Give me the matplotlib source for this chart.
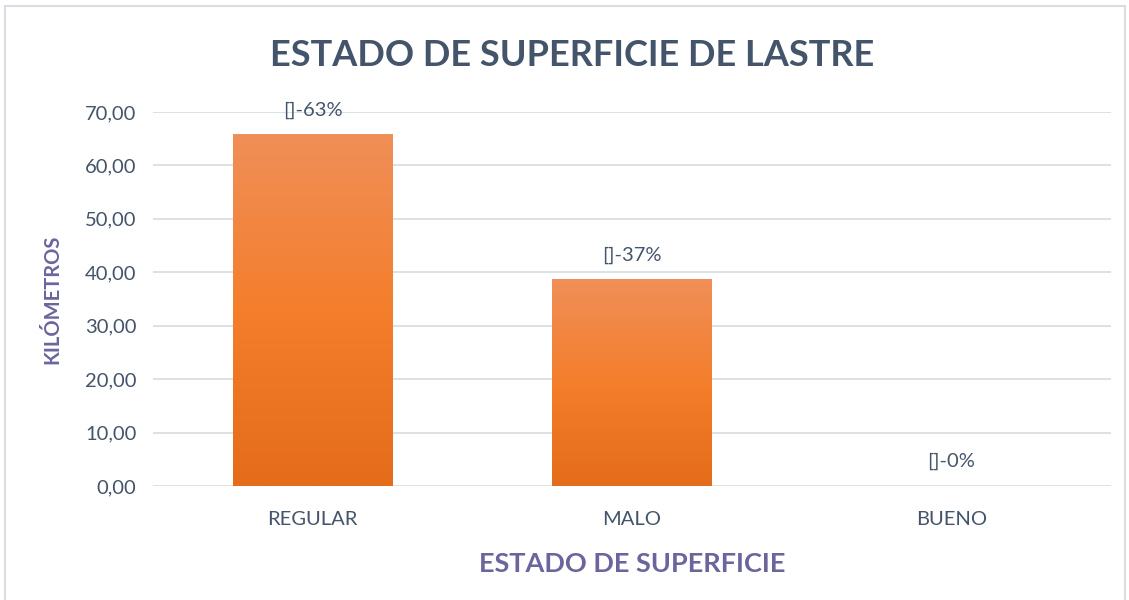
import numpy as np
import matplotlib
matplotlib.use('Agg')
from matplotlib import pyplot as plt
from matplotlib.colors import LinearSegmentedColormap
from matplotlib.patches import Rectangle

categorias = ['REGULAR', 'MALO', 'BUENO']
kilometros = [65.7, 38.6, 0.0]
etiquetas = ['[]-63%', '[]-37%', '[]-0%']
yticks = [0, 10, 20, 30, 40, 50, 60, 70]

plt.rcParams['font.family'] = ['Lato', 'DejaVu Sans']
txt = '#44546A'
morado = '#6B659E'
rejilla = '#D9DEE3'

fig = plt.figure(figsize=(11.29, 6), dpi=100)
# chart border
fig.patches.append(Rectangle((5/1129, -0.01), 1120/1129, 1 - 6/600 + 0.01, transform=fig.transFigure,
                             fill=False, edgecolor='#D9DDE2', lw=1.5))

ax = fig.add_axes([153/1129, 1 - 486/600, 958/1129, 374/600])

# gradient bars
cmap = LinearSegmentedColormap.from_list('naranja', ['#E46C1A', '#F47E2C', '#F08F58'])
grad = np.linspace(0, 1, 256).reshape(-1, 1)
ancho = 0.5
for i, v in enumerate(kilometros):
    if v > 0:
        ax.imshow(grad, cmap=cmap, origin='lower', aspect='auto',
                  extent=(i - ancho/2, i + ancho/2, 0, v), zorder=3)
    ax.text(i, v + 3.0, etiquetas[i], ha='center', va='bottom', fontsize=14.5, color=txt)

ax.set_xlim(-0.5, 2.5)
ax.set_ylim(0, 70)
ax.set_yticks(yticks)
ax.set_yticklabels([f'{t:.2f}'.replace('.', ',') for t in yticks], fontsize=14.5, color=txt)
ax.set_xticks(range(len(categorias)))
ax.set_xticklabels(categorias, fontsize=14.5, color=txt)
ax.tick_params(axis='y', length=0, pad=12)
ax.tick_params(axis='x', length=0, pad=18)
ax.grid(axis='y', color=rejilla, lw=1.3, zorder=0)
ax.set_axisbelow(True)
for s in ax.spines.values():
    s.set_visible(False)

ax.set_ylabel('KILÓMETROS', fontsize=14.5, fontweight='bold', color=morado, labelpad=16)
ax.set_xlabel('ESTADO DE SUPERFICIE', fontsize=19.5, fontweight='bold', color=morado, labelpad=17)
fig.text(0.507, 1 - 55/600, 'ESTADO DE SUPERFICIE DE LASTRE', ha='center', va='center',
         fontsize=26, fontweight='bold', color=txt)

fig.savefig('out.png', dpi=100)
